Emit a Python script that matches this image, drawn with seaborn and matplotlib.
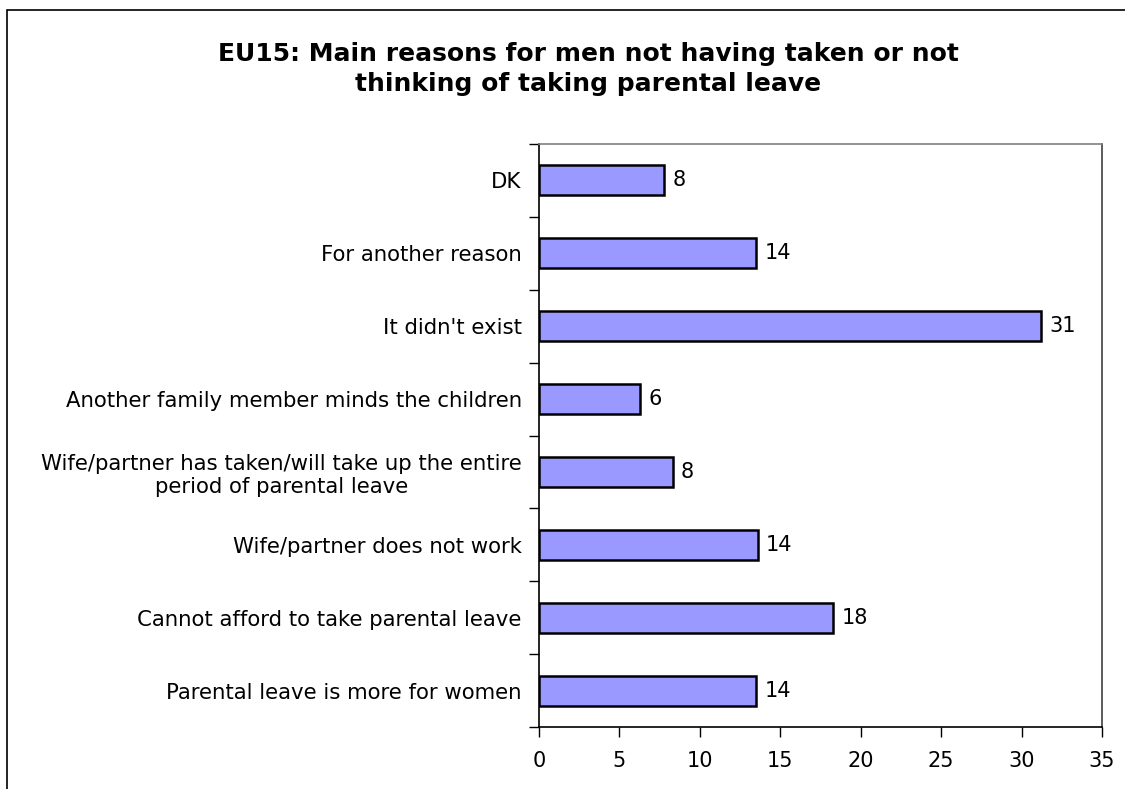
import matplotlib
matplotlib.use("Agg")
import matplotlib.pyplot as plt
import seaborn as sns
import pandas as pd
from matplotlib.patches import Rectangle

# Survey results (% of men), listed top to bottom
reasons = [
    "DK",
    "For another reason",
    "It didn't exist",
    "Another family member minds the children",
    "Wife/partner has taken/will take up the entire\nperiod of parental leave",
    "Wife/partner does not work",
    "Cannot afford to take parental leave",
    "Parental leave is more for women",
]
shares = [7.8, 13.5, 31.2, 6.3, 8.3, 13.6, 18.3, 13.5]
x_ticks = [0, 5, 10, 15, 20, 25, 30, 35]

title = "EU15: Main reasons for men not having taken or not\nthinking of taking parental leave"

sns.set_theme(style="white")
plt.rcParams["font.family"] = ["DejaVu Sans"]
plt.rcParams["text.color"] = "black"
plt.rcParams["xtick.color"] = "black"
plt.rcParams["ytick.color"] = "black"

df = pd.DataFrame({"reason": reasons, "share": shares})

W, H = 1125, 789
fig = plt.figure(figsize=(W / 100, H / 100), dpi=100)
ax = fig.add_axes([539 / W, 1 - 727 / H, (1102 - 539) / W, (727 - 144) / H])

sns.barplot(data=df, x="share", y="reason", order=reasons, orient="h",
            color="#9999FF", saturation=1, width=0.41,
            edgecolor="black", linewidth=1.8, ax=ax)

ax.set_xlim(0, 35)
ax.set_ylim(len(reasons) - 0.5, -0.5)
ax.set_xticks(x_ticks)
ax.set_xticklabels([str(t) for t in x_ticks], fontsize=15)
ax.set_xlabel("")
ax.set_ylabel("")

# category labels without marks; tick marks sit between categories
ax.tick_params(axis="y", which="major", length=0, pad=12.5, labelsize=15.3)
for lab in ax.get_yticklabels():
    lab.set_multialignment("center")
ax.set_yticks([i - 0.5 for i in range(len(reasons) + 1)], minor=True)
ax.tick_params(axis="y", which="minor", left=True, length=7, width=1, color="black", direction="out")
ax.tick_params(axis="x", which="major", bottom=True, length=7, width=1, color="black",
               direction="out", pad=10.5)

for side in ["left", "bottom"]:
    ax.spines[side].set_color("black")
    ax.spines[side].set_linewidth(1.2)
ax.spines["top"].set_color("#808080")
ax.spines["top"].set_linewidth(1.2)
ax.spines["right"].set_color("#404040")
ax.spines["right"].set_linewidth(1.2)

# value labels
for i, v in enumerate(shares):
    ax.annotate(f"{v:.0f}", xy=(v, i), xytext=(6, 0), textcoords="offset points",
                ha="left", va="center", fontsize=15, color="black")

fig.text(588 / W, 1 - 69 / H, title, ha="center", va="center", fontsize=18,
         fontweight="bold", linespacing=1.35, color="black")

# chart frame
fig.patches.append(Rectangle((7 / W, -0.05), 1.2, 1 - 10 / H + 0.05, transform=fig.transFigure,
                             fill=False, edgecolor="black", linewidth=1.2))

fig.savefig("out.png", dpi=100, facecolor="white")
